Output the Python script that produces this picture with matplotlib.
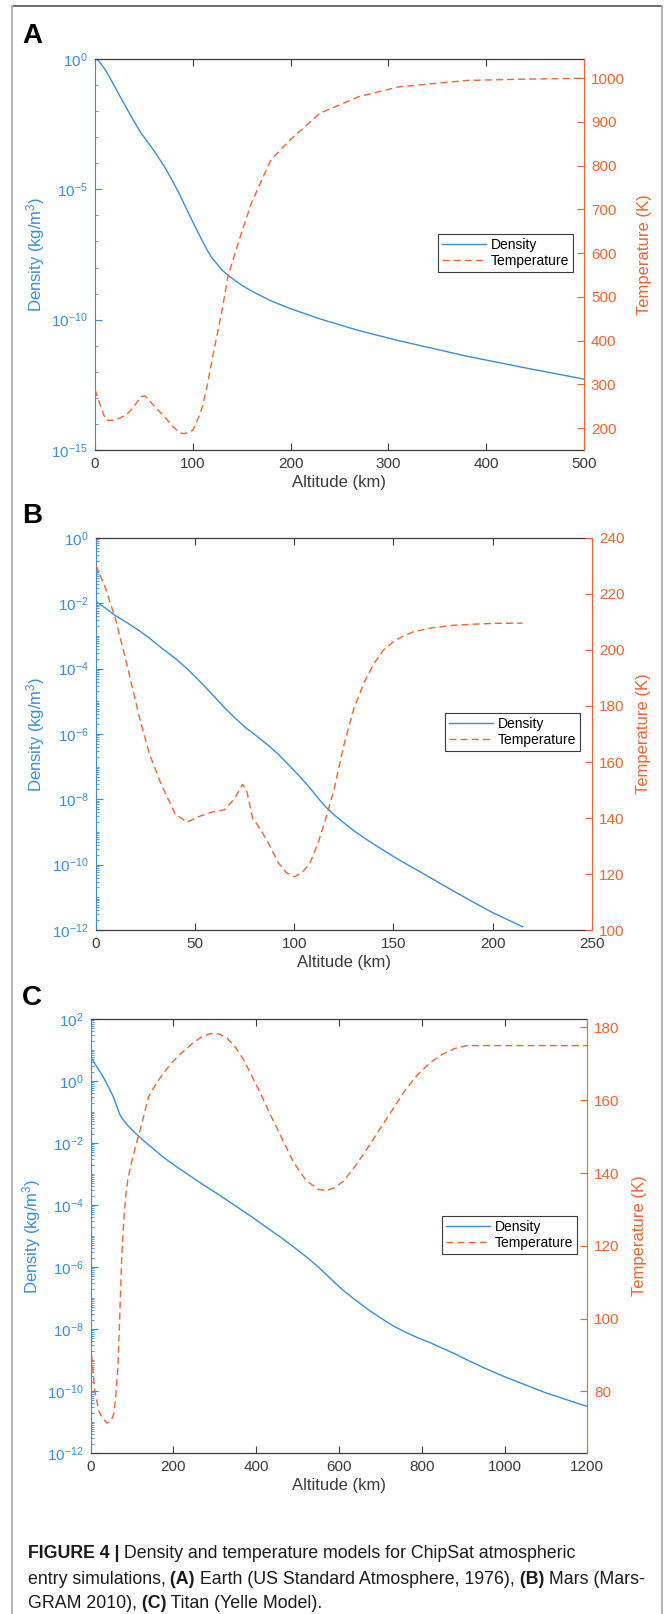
"""
Density / temperature profiles used for the ChipSat entry simulations.
Three stacked panels (Earth, Mars, Titan), log density on the left axis,
temperature on the right axis, and the figure caption underneath.
"""

import numpy as np
import matplotlib
matplotlib.use("Agg")
import matplotlib.pyplot as plt
from matplotlib import ticker
from matplotlib.lines import Line2D

plt.rcParams["font.family"] = ["Liberation Sans", "DejaVu Sans"]
plt.rcParams["mathtext.fontset"] = "custom"
plt.rcParams["mathtext.rm"] = "Liberation Sans"
plt.rcParams["mathtext.it"] = "Liberation Sans:italic"
plt.rcParams["mathtext.bf"] = "Liberation Sans:bold"
plt.rcParams["axes.unicode_minus"] = False

BLUE = "#3A8DD8"
ORANGE = "#EE6532"
DARK = "#3a3a3a"

# ---- (A) Earth, US Standard Atmosphere 1976 ----
alt_a = [0, 5, 11, 20, 32, 40, 47, 51, 60, 71, 80, 86, 91, 100, 106, 110, 115,
         120, 130, 136, 150, 160, 180, 200, 230, 270, 310, 380, 440, 500]
dens_a_log = [0.09, -0.13, -0.44, -1.05, -1.87, -2.40, -2.84, -3.04, -3.50, -4.13,
              -4.73, -5.16, -5.55, -6.25, -6.70, -7.00, -7.35, -7.65, -8.10, -8.30,
              -8.68, -8.90, -9.28, -9.58, -9.97, -10.42, -10.80, -11.40, -11.85, -12.28]
temp_a = [288, 255, 218, 218, 230, 250, 272, 274, 252, 226, 203, 190, 187, 195, 225,
          250, 300, 360, 470, 548, 648, 715, 814, 860, 920, 958, 980, 995, 998, 1000]

# ---- (B) Mars, Mars-GRAM 2010 ----
alt_b = [0, 5, 10, 16, 22, 27, 33, 40, 46, 52, 58, 65, 70, 74, 76, 79, 83, 87, 92,
         96, 100, 104, 108, 112, 116, 120, 125, 130, 135, 140, 145, 150, 155, 160,
         170, 180, 190, 200, 215]
dens_b_log = [-1.94, -2.15, -2.38, -2.60, -2.84, -3.06, -3.36, -3.68, -4.00, -4.36,
              -4.74, -5.20, -5.50, -5.72, -5.83, -5.96, -6.16, -6.35, -6.62, -6.87,
              -7.12, -7.38, -7.66, -7.96, -8.24, -8.47, -8.72, -8.96, -9.17, -9.37,
              -9.56, -9.75, -9.93, -10.10, -10.45, -10.80, -11.14, -11.47, -11.90]
temp_b = [230.5, 222, 211, 194, 176, 163, 152, 141.5, 138.5, 140.5, 142, 143, 147,
          152, 150, 140, 136, 131, 124, 120.5, 119, 120.5, 124, 131, 140, 150, 166,
          179, 188, 195, 200, 203, 205, 206.5, 208, 208.8, 209.2, 209.5, 209.6]

# ---- (C) Titan, Yelle model ----
alt_c = [0, 10, 20, 30, 40, 50, 56, 60, 66, 70, 75, 80, 85, 90, 100, 110, 120, 130,
         140, 150, 170, 190, 210, 230, 250, 270, 290, 310, 330, 350, 370, 390, 410,
         430, 460, 490, 520, 550, 570, 590, 610, 640, 670, 700, 730, 760, 790, 820,
         850, 880, 910, 950, 1000, 1100, 1200]
dens_c_log = [0.78, 0.56, 0.35, 0.14, -0.12, -0.38, -0.55, -0.70, -0.92, -1.07,
              -1.19, -1.28, -1.36, -1.44, -1.58, -1.71, -1.83, -1.95, -2.06, -2.17,
              -2.40, -2.60, -2.79, -2.97, -3.15, -3.33, -3.50, -3.67, -3.85, -4.03,
              -4.21, -4.39, -4.58, -4.77, -5.05, -5.35, -5.66, -6.00, -6.25, -6.51,
              -6.75, -7.07, -7.37, -7.64, -7.89, -8.10, -8.28, -8.44, -8.62, -8.80,
              -9.00, -9.25, -9.54, -10.06, -10.50]
temp_c = [93, 80, 74.5, 72.5, 71.3, 72, 74, 78, 87, 100, 117, 127, 134, 138.5, 143.5,
          148, 152, 156.5, 161, 163, 166.5, 169.5, 172, 174, 176, 177.5, 178.3, 178.2,
          177, 174.5, 171, 166.5, 162, 157, 150, 143, 138, 135.5, 135.2, 136, 137.7,
          142, 147, 152.3, 157.5, 162.8, 167, 170.3, 172.6, 174.2, 175, 175, 175, 175,
          175]

W, H = 664, 1614
fig = plt.figure(figsize=(W / 100, H / 100), dpi=100)


def px_rect(l, t, r, b):
    return [l / W, 1 - b / H, (r - l) / W, (b - t) / H]


def panel(box, alt, dens_log, temp, xmax, xstep, dexp, dstep, dense_minor,
          tlim, tticks, letter, letter_xy, leg_xy, dlab_x, tlab_x):
    l, t, r, b = box
    ax = fig.add_axes(px_rect(*box))
    ax.plot(alt, 10.0 ** np.array(dens_log), color=BLUE, lw=1.0, label="Density")
    ax.set_yscale("log")
    ax.set_xlim(0, xmax)
    ax.set_ylim(10.0 ** dexp[0], 10.0 ** dexp[1])
    ax.set_xticks(np.arange(0, xmax + 1, xstep))
    ax.set_yticks(10.0 ** np.arange(dexp[0], dexp[1] + 1, dstep))
    if dense_minor:
        ax.yaxis.set_minor_locator(ticker.LogLocator(base=10, subs=np.arange(1, 10),
                                                     numticks=100))
    else:
        ax.set_yticks(10.0 ** np.arange(dexp[0], dexp[1] + 1), minor=True)
    ax.yaxis.set_minor_formatter(ticker.NullFormatter())
    ax.yaxis.set_major_formatter(ticker.LogFormatterSciNotation())

    ax2 = ax.twinx()
    ax2.plot(alt, temp, color=ORANGE, lw=1.0, ls=(0, (5, 3)), label="Temperature")
    ax2.set_ylim(*tlim)
    ax2.set_yticks(tticks)

    ax.tick_params(axis="x", direction="in", top=True, length=5, width=0.8,
                   colors=DARK, labelsize=11, pad=5)
    ax.tick_params(axis="y", which="major", direction="in", length=5, width=0.8,
                   colors=BLUE, labelsize=11, pad=5)
    ax.tick_params(axis="y", which="minor", direction="in", length=2.5, width=0.6,
                   colors=BLUE)
    ax2.tick_params(axis="y", direction="in", length=5, width=0.8,
                    colors=ORANGE, labelsize=11, pad=5)

    for s in ("top", "bottom"):
        ax.spines[s].set_color(DARK)
        ax.spines[s].set_linewidth(0.9)
        ax2.spines[s].set_visible(False)
    ax.spines["left"].set_color(BLUE)
    ax.spines["right"].set_visible(False)
    ax2.spines["left"].set_visible(False)
    ax2.spines["right"].set_color(ORANGE)

    ax.set_xlabel("Altitude (km)", fontsize=12, color=DARK, labelpad=3)
    ax.set_ylabel("Density (kg/m$^3$)", fontsize=12, color=BLUE)
    ax2.set_ylabel("Temperature (K)", fontsize=12, color=ORANGE)
    ax.yaxis.set_label_coords((dlab_x - l) / (r - l), 0.5)
    ax2.yaxis.set_label_coords((tlab_x - l) / (r - l), 0.5)

    h1, l1 = ax.get_legend_handles_labels()
    h2, l2 = ax2.get_legend_handles_labels()
    ax2.legend(h1 + h2, l1 + l2, loc="upper left",
               bbox_to_anchor=(leg_xy[0] / W, 1 - leg_xy[1] / H),
               bbox_transform=fig.transFigure, borderaxespad=0, fancybox=False,
               edgecolor=DARK, framealpha=1, fontsize=10, handlelength=3.2,
               handletextpad=0.3, borderpad=0.3, labelspacing=0.1)
    ax2.get_legend().get_frame().set_linewidth(0.8)

    fig.text(letter_xy[0] / W, 1 - letter_xy[1] / H, letter, fontsize=20,
             fontweight="bold", ha="left", va="baseline")
    return ax


panel((95, 59, 584, 450), alt_a, dens_a_log, temp_a, 500, 100, (-15, 0), 5, False,
      (150, 1044), np.arange(200, 1001, 100), "A", (22, 43), (437.6, 234), 47, 637)
panel((95.7, 538, 592, 930), alt_b, dens_b_log, temp_b, 250, 50, (-12, 0), 2, True,
      (100, 240), np.arange(100, 241, 20), "B", (22, 523), (444.8, 713), 47, 636)
panel((90.7, 1019, 587.3, 1453), alt_c, dens_c_log, temp_c, 1200, 200, (-12, 2), 2, True,
      (63.1, 182.3), np.arange(80, 181, 20), "C", (22, 1005), (441.8, 1216), 43, 632)

# caption, bold and regular runs chained one after another
cap_ax = fig.add_axes([0, 0, 1, 1])
cap_ax.set_axis_off()
caption = [
    [("FIGURE 4 |", True), (" Density and temperature models for ChipSat atmospheric", False)],
    [("entry simulations,", False), (" (A)", True), (" Earth (US Standard Atmosphere, 1976),", False),
     (" (B)", True), (" Mars (Mars-", False)],
    [("GRAM 2010),", False), (" (C)", True), (" Titan (Yelle Model).", False)],
]
baselines = [1558, 1583.5, 1608]
for runs, yb in zip(caption, baselines):
    prev = None
    for txt, bold in runs:
        w = "bold" if bold else "normal"
        if prev is None:
            prev = cap_ax.text(27.6 / W, 1 - yb / H, txt, fontsize=12.8, fontweight=w,
                               ha="left", va="baseline", color="#1a1a1a")
        else:
            prev = cap_ax.annotate(txt, xy=(1, 0), xycoords=prev, fontsize=12.8,
                                   fontweight=w, ha="left", va="bottom", color="#1a1a1a")

# page frame
fig.add_artist(Line2D([12 / W, 662 / W], [1 - 6 / H, 1 - 6 / H],
                      transform=fig.transFigure, color="#6e6e6e", lw=1.4))
for xf in (12, 662):
    fig.add_artist(Line2D([xf / W, xf / W], [1 - 6 / H, 0],
                          transform=fig.transFigure, color="#b4b4b4", lw=1.4))

fig.savefig("out.png", dpi=100)
